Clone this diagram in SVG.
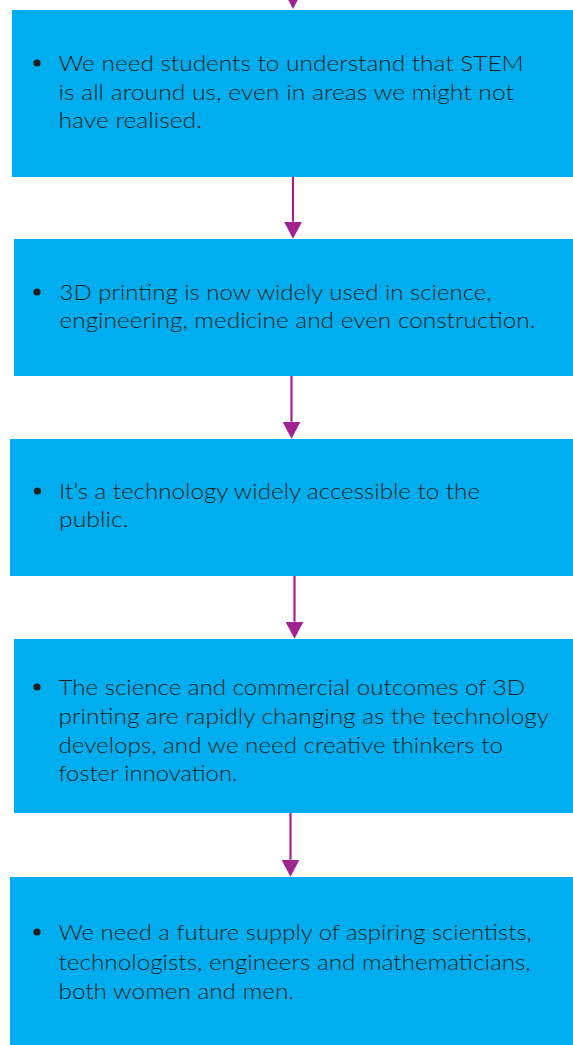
<svg xmlns="http://www.w3.org/2000/svg" width="573" height="1045" viewBox="0 0 573 1045">
<defs>
<style>
.box{fill:#00AEEF;}
.t{font-family:Lato,"Open Sans","Liberation Sans",sans-serif;font-size:22px;font-weight:300;fill:#231F20;}
.b{fill:#231F20;}
.c{stroke:#A0238F;stroke-width:2.2;fill:none;}
</style>
<marker id="ah" markerUnits="userSpaceOnUse" viewBox="0 -9 17 18" markerWidth="17" markerHeight="18" refX="0" refY="0" orient="auto">
<path d="M0,-9 L17,0 L0,9 z" fill="#A0238F"/>
</marker>
</defs>
<rect width="573" height="1045" fill="#FFFFFF"/>
<g id="connectors">
<line class="c" x1="293" y1="-60" x2="293" y2="-8" marker-end="url(#ah)"/>
<line class="c" x1="293" y1="177" x2="293" y2="221.7" marker-end="url(#ah)"/>
<line class="c" x1="291.5" y1="376" x2="291.5" y2="421.7" marker-end="url(#ah)"/>
<line class="c" x1="294.5" y1="576" x2="294.5" y2="621.7" marker-end="url(#ah)"/>
<line class="c" x1="290.5" y1="813" x2="290.5" y2="859.7" marker-end="url(#ah)"/>
</g>
<g id="node1">
<rect class="box" x="12" y="10" width="561" height="167"/>
<circle class="b" cx="37" cy="63" r="3.6"/>
<text class="t" x="58.5" y="71" textLength="465.3" lengthAdjust="spacingAndGlyphs">We need students to understand that STEM</text>
<text class="t" x="58.5" y="99.5" textLength="455.5" lengthAdjust="spacingAndGlyphs">is all around us, even in areas we might not</text>
<text class="t" x="58.5" y="128" textLength="143.5" lengthAdjust="spacingAndGlyphs">have realised.</text>
</g>
<g id="node2">
<rect class="box" x="14" y="239" width="559" height="137"/>
<circle class="b" cx="37" cy="292" r="3.6"/>
<text class="t" x="59.5" y="300" textLength="432" lengthAdjust="spacingAndGlyphs">3D printing is now widely used in science,</text>
<text class="t" x="59.5" y="328" textLength="476" lengthAdjust="spacingAndGlyphs">engineering, medicine and even construction.</text>
</g>
<g id="node3">
<rect class="box" x="10" y="439" width="563" height="137"/>
<circle class="b" cx="37.5" cy="491" r="3.6"/>
<text class="t" x="59" y="499" textLength="421" lengthAdjust="spacingAndGlyphs">It’s a technology widely accessible to the</text>
<text class="t" x="59" y="527" textLength="69.5" lengthAdjust="spacingAndGlyphs">public.</text>
</g>
<g id="node4">
<rect class="box" x="14" y="639" width="559" height="174"/>
<circle class="b" cx="37" cy="687" r="3.6"/>
<text class="t" x="58.5" y="695" textLength="466.5" lengthAdjust="spacingAndGlyphs">The science and commercial outcomes of 3D</text>
<text class="t" x="58.5" y="724" textLength="490.5" lengthAdjust="spacingAndGlyphs">printing are rapidly changing as the technology</text>
<text class="t" x="58.5" y="752.5" textLength="444.5" lengthAdjust="spacingAndGlyphs">develops, and we need creative thinkers to</text>
<text class="t" x="58.5" y="781" textLength="179" lengthAdjust="spacingAndGlyphs">foster innovation.</text>
</g>
<g id="node5">
<rect class="box" x="10" y="877" width="563" height="168"/>
<circle class="b" cx="37" cy="932" r="3.6"/>
<text class="t" x="58.5" y="940" textLength="473.3" lengthAdjust="spacingAndGlyphs">We need a future supply of aspiring scientists,</text>
<text class="t" x="58.5" y="969.5" textLength="472.2" lengthAdjust="spacingAndGlyphs">technologists, engineers and mathematicians,</text>
<text class="t" x="58.5" y="999" textLength="235.5" lengthAdjust="spacingAndGlyphs">both women and men.</text>
</g>
</svg>
